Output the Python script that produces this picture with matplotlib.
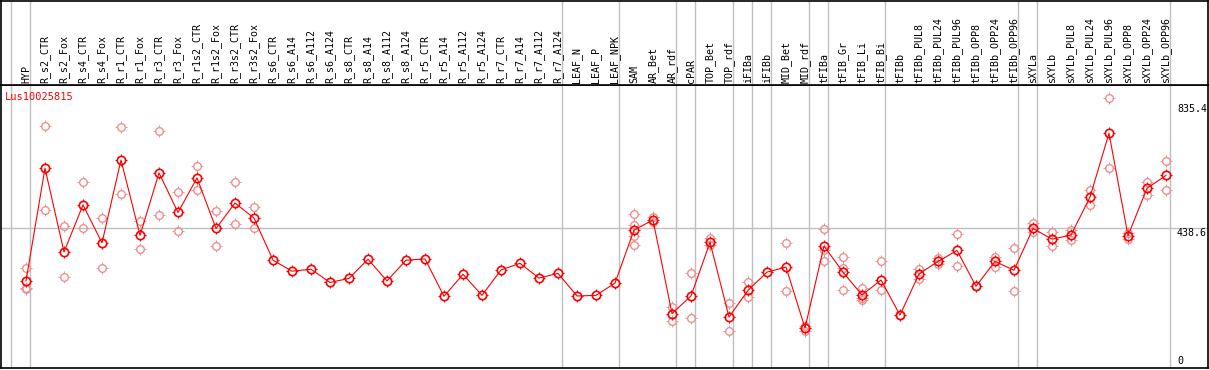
import matplotlib
matplotlib.use("Agg")
import matplotlib.pyplot as plt
import matplotlib.transforms as mtransforms
from matplotlib.path import Path

# sample names along the x axis
samples = [
    "HYP", "R_s2_CTR", "R_s2_Fox", "R_s4_CTR", "R_s4_Fox", "R_r1_CTR", "R_r1_Fox",
    "R_r3_CTR", "R_r3_Fox", "R_r1s2_CTR", "R_r1s2_Fox", "R_r3s2_CTR", "R_r3s2_Fox",
    "R_s6_CTR", "R_s6_A14", "R_s6_A112", "R_s6_A124", "R_s8_CTR", "R_s8_A14",
    "R_s8_A112", "R_s8_A124", "R_r5_CTR", "R_r5_A14", "R_r5_A112", "R_r5_A124",
    "R_r7_CTR", "R_r7_A14", "R_r7_A112", "R_r7_A124", "LEAF_N", "LEAF_P", "LEAF_NPK",
    "SAM", "AR_Bet", "AR_rdf", "cPAR", "TOP_Bet", "TOP_rdf", "iFIBa", "iFIBb",
    "MID_Bet", "MID_rdf", "tFIBa", "tFIB_Gr", "tFIB_Li", "tFIB_Bi", "tFIBb",
    "tFIBb_PUL8", "tFIBb_PUL24", "tFIBb_PUL96", "tFIBb_OPP8", "tFIBb_OPP24",
    "tFIBb_OPP96", "sXYLa", "sXYLb", "sXYLb_PUL8", "sXYLb_PUL24", "sXYLb_PUL96",
    "sXYLb_OPP8", "sXYLb_OPP24", "sXYLb_OPP96",
]

# mean expression per sample
means = [
    271, 630, 363, 513, 392, 656, 416, 615, 489, 599, 438, 519, 471,
    337, 302, 308, 266, 279, 340, 271, 337, 341, 222, 292, 225,
    306, 327, 280, 295, 223, 225, 264,
    433, 465, 167, 223, 394, 156, 241, 299,
    315, 121, 382, 299, 226, 274, 162,
    293, 333, 368, 254, 333, 305,
    438, 404, 417, 538, 741, 415, 566, 607,
]

# replicate values (sample index, value)
rep_idx = [
    0, 0, 0, 1, 1, 2, 2, 3, 3, 4, 4, 5, 5, 6, 6, 7, 7, 8, 8, 9, 9, 10, 10, 11, 11, 12, 12,
    32, 32, 32, 32, 33, 33, 34, 34, 35, 35, 36, 36, 37, 37, 38, 38,
    40, 40, 41, 41, 42, 42, 42, 43, 43, 43, 44, 44, 44, 45, 45, 46,
    47, 47, 48, 48, 49, 49, 50, 51, 51, 52, 52, 53, 53, 54, 54, 55, 55,
    56, 56, 57, 57, 58, 58, 59, 59, 60, 60,
]
rep_val = [
    312, 250, 245, 764, 496, 445, 283, 585, 439, 471, 312, 761, 548, 462, 373, 748, 480,
    553, 429, 636, 561, 493, 382, 585, 451, 505, 439,
    484, 449, 415, 384, 475, 458, 189, 142, 295, 152, 409, 384, 201, 112, 267, 220,
    392, 238, 113, 127, 436, 334, 369, 347, 313, 242, 249, 216, 209, 334, 242, 162,
    310, 277, 345, 326, 419, 319, 254, 347, 316, 375, 239, 456, 428, 426, 383, 432, 402,
    561, 514, 853, 630, 405, 423, 586, 546, 653, 560,
]

# group separators sit just right of these samples
group_ends = [-1, 0, 28, 31, 34, 35, 37, 38, 39, 41, 42, 45, 52, 53, 60]
y_marks = [835.4, 438.6, 0]

W, H = 1209, 370
fig = plt.figure(figsize=(W / 100, H / 100), dpi=100)

left, right = 1, 1208
top, sep, bottom = 1, 85, 368
x0_px, dx_px = 26, 19
y0_px, ky = 366, 0.314

xlim = ((left - x0_px) / dx_px, (right - x0_px) / dx_px)
ylim = ((y0_px - bottom) / ky, (y0_px - sep) / ky)

ax = fig.add_axes([left / W, 1 - bottom / H, (right - left) / W, (bottom - sep) / H])
hx = fig.add_axes([left / W, 1 - sep / H, (right - left) / W, (sep - top) / H], sharex=ax)

mono = "DejaVu Sans Mono"
grey = "#c0c0c0"

for a in (ax, hx):
    a.set_xlim(*xlim)
    for s in a.spines.values():
        s.set_color("black")
        s.set_linewidth(1.2)
    a.tick_params(left=False, bottom=False, labelleft=False, labelbottom=False)
    for g in group_ends:
        a.axvline(g + 0.23, color=grey, lw=1.0, zorder=0)
ax.set_ylim(*ylim)
hx.set_ylim(0, 1)

ax.axhline(438.6, color=grey, lw=1.0, zorder=0)

# four short ticks just outside the circle marker
r0, r1 = 1.0, 1.45
ticks = Path(
    [(0, r0), (0, r1), (0, -r0), (0, -r1), (r0, 0), (r1, 0), (-r0, 0), (-r1, 0)],
    [Path.MOVETO, Path.LINETO] * 4,
)

xs = list(range(len(samples)))
pink = "#ef9090"
ax.plot(rep_idx, rep_val, ls="none", marker="o", ms=5.5, mfc="none", mec=pink, mew=1.0, zorder=2)
ax.plot(rep_idx, rep_val, ls="none", marker=ticks, ms=5.5 * r1, mfc="none", mec=pink, mew=0.7, zorder=2)
ax.plot(xs, means, color="red", lw=0.8, zorder=3)
ax.plot(xs, means, ls="none", marker="o", ms=6, mfc="none", mec="red", mew=1.2, zorder=4)
ax.plot(xs, means, ls="none", marker=ticks, ms=6 * r1, mfc="none", mec="red", mew=0.8, zorder=4)

trans = mtransforms.blended_transform_factory(hx.transData, hx.transAxes)
for i, name in enumerate(samples):
    hx.text(i, 0.02, name, rotation=90, ha="center", va="bottom", transform=trans,
            family=mono, fontsize=7.2, color="black")

ax.text(4 / (right - left), 1 - 12 / (bottom - sep), "Lus10025815", transform=ax.transAxes,
        ha="left", va="center", family=mono, fontsize=7.5, color="red")

xt = (1177 - left) / (right - left)
tr = mtransforms.blended_transform_factory(ax.transAxes, ax.transData)
for v in y_marks:
    ax.text(xt, v, f"{v:g}", transform=tr, ha="left", va="bottom" if v == 0 else "top",
            family=mono, fontsize=7.2, color="black")

fig.savefig("out.png", dpi=100)
